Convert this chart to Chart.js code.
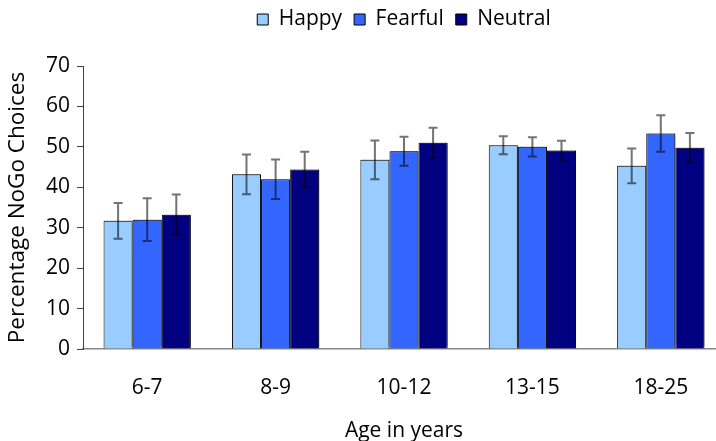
<!DOCTYPE html>
<html>
<head>
<meta charset="utf-8">
<script src="https://cdn.jsdelivr.net/npm/chart.js@4/dist/chart.umd.min.js"></script>
<style>
  html, body { margin: 0; padding: 0; background: #fff; overflow: hidden; }
  #wrap { width: 740px; height: 441px; }
</style>
</head>
<body>
<div id="wrap"><canvas id="chart" width="740" height="441"></canvas></div>
<script>
// Age groups on the x axis
const categories = ['6-7', '8-9', '10-12', '13-15', '18-25'];

// Mean percentage of NoGo choices per emotion, with error bar half-lengths
const happy      = [31.7, 43.2, 46.8, 50.4, 45.3];
const happyErr   = [4.4, 4.9, 4.8, 2.2, 4.3];
const fearful    = [32.0, 42.0, 48.9, 50.0, 53.3];
const fearfulErr = [5.3, 4.9, 3.6, 2.4, 4.5];
const neutral    = [33.2, 44.4, 51.0, 49.1, 49.8];
const neutralErr = [5.0, 4.4, 3.7, 2.4, 3.6];

// Y axis range and step
const yMin = 0, yMax = 70, yStep = 10;

Chart.defaults.font.family = "'Open Sans', sans-serif";
Chart.defaults.color = '#000';

// Soft drop shadow behind the bars
const barShadow = {
  id: 'barShadow',
  beforeDatasetsDraw(chart) {
    const ctx = chart.ctx;
    ctx.save();
    ctx.shadowColor = 'rgba(0,0,0,0.4)';
    ctx.shadowBlur = 1;
    ctx.shadowOffsetX = 1.5;
    ctx.shadowOffsetY = -1.5;
  },
  afterDatasetsDraw(chart) {
    chart.ctx.restore();
  }
};

// Whiskers with caps at mean +/- error
const errorBars = {
  id: 'errorBars',
  afterDatasetsDraw(chart) {
    const ctx = chart.ctx;
    const y = chart.scales.y;
    ctx.save();
    ctx.strokeStyle = 'rgba(0,0,0,0.55)';
    ctx.lineWidth = 2;
    chart.data.datasets.forEach((ds, i) => {
      const meta = chart.getDatasetMeta(i);
      meta.data.forEach((bar, j) => {
        const v = ds.data[j], e = ds.errors[j];
        const yt = y.getPixelForValue(v + e);
        const yb = y.getPixelForValue(v - e);
        const x = bar.x, cap = 4.5;
        ctx.beginPath();
        ctx.moveTo(x, yt); ctx.lineTo(x, yb);
        ctx.moveTo(x - cap, yt); ctx.lineTo(x + cap, yt);
        ctx.moveTo(x - cap, yb); ctx.lineTo(x + cap, yb);
        ctx.stroke();
      });
    });
    ctx.restore();
  }
};

// Extra space under the legend so the plot starts lower
const legendSpace = {
  id: 'legendSpace',
  beforeInit(chart) {
    const fit = chart.legend.fit;
    chart.legend.fit = function () {
      fit.call(this);
      this.height = 69;
    };
  }
};

new Chart(document.getElementById('chart'), {
  type: 'bar',
  data: {
    labels: categories,
    datasets: [
      { label: 'Happy',   data: happy,   errors: happyErr,   backgroundColor: '#99CCFF', borderColor: '#000', borderWidth: 1 },
      { label: 'Fearful', data: fearful, errors: fearfulErr, backgroundColor: '#3366FF', borderColor: '#000', borderWidth: 1 },
      { label: 'Neutral', data: neutral, errors: neutralErr, backgroundColor: '#000080', borderColor: '#000', borderWidth: 1 }
    ]
  },
  options: {
    responsive: false,
    animation: false,
    layout: { padding: { top: -3, right: 15, left: 0, bottom: 0 } },
    datasets: { bar: { categoryPercentage: 0.68, barPercentage: 1.0 } },
    plugins: {
      tooltip: { enabled: false },
      legend: {
        position: 'top',
        fullSize: false,
        labels: {
          boxWidth: 11,
          boxHeight: 11,
          padding: 12,
          color: '#000',
          font: { size: 21 }
        }
      }
    },
    scales: {
      x: {
        grid: { drawOnChartArea: false, drawTicks: false, color: '#868686' },
        border: { color: '#868686', width: 1.5 },
        ticks: { padding: 26, font: { size: 21 }, color: '#000', maxRotation: 0 },
        title: { display: true, text: 'Age in years', font: { size: 21 }, color: '#000', padding: { top: 0, bottom: -3 } },
        afterFit(scale) { scale.height = 92; }
      },
      y: {
        min: yMin,
        max: yMax,
        ticks: { stepSize: yStep, padding: 7, font: { size: 21 }, color: '#000' },
        grid: { drawOnChartArea: false, drawTicks: true, tickLength: 6, color: '#404040' },
        border: { color: '#404040' },
        title: { display: true, text: 'Percentage NoGo Choices', font: { size: 22.5 }, color: '#000', padding: { top: 4, bottom: 0 } },
        afterFit(scale) { scale.width = 83; }
      }
    }
  },
  plugins: [barShadow, errorBars, legendSpace]
});
</script>
</body>
</html>
